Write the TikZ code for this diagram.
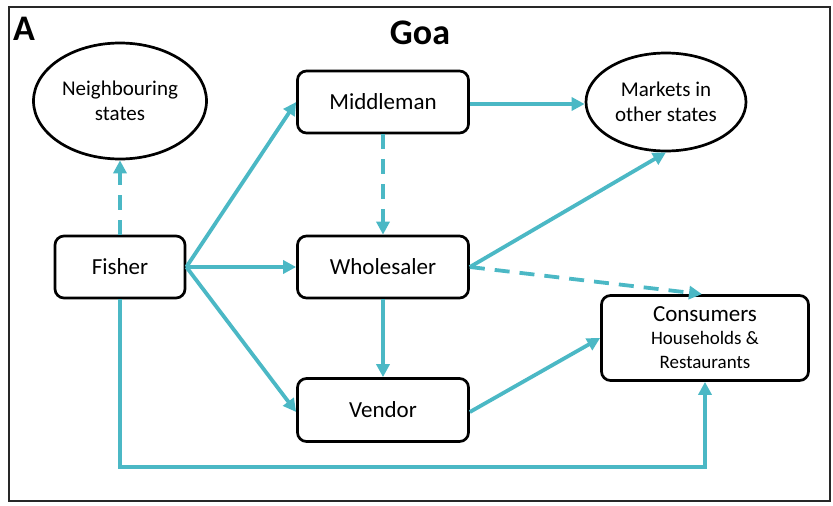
\documentclass[tikz,border=0pt]{standalone}
\usepackage{fontspec}
\setmainfont{Carlito}
\usetikzlibrary{arrows.meta,shapes.geometric}
\definecolor{flow}{RGB}{75,184,197}
\definecolor{framegray}{RGB}{40,40,40}
\tikzset{
  stage/.style={draw=black, line width=2.7pt, rounded corners=9pt,
    minimum width=171pt, minimum height=62pt, inner sep=0pt,
    font=\fontsize{23}{26}\selectfont, align=center},
  place/.style={draw=black, line width=2.7pt, ellipse, inner sep=0pt,
    font=\fontsize{21}{25}\selectfont, align=center},
  link/.style={draw=flow, line width=3.8pt,
    -{Triangle[length=13pt,width=13pt]}},
  weaklink/.style={link, dash pattern=on 15pt off 10pt},
}
\begin{document}
\begin{tikzpicture}[x=1pt,y=-1pt]
  \useasboundingbox (0,0) rectangle (833,506);
  \draw[framegray, line width=2pt] (9,7) rectangle (830,501);

  \node[font=\fontsize{36}{36}\bfseries\selectfont] (tag) at (24,29) {A};
  \node[font=\fontsize{36}{36}\bfseries\selectfont] (title) at (420,33) {Goa};

  % actors along the supply chain
  \node[stage, minimum width=130pt] (fisher) at (120,267) {Fisher};
  \node[stage] (middle) at (383,102) {Middleman};
  \node[stage] (whole) at (383,267) {Wholesaler};
  \node[stage, minimum height=63pt] (vendor) at (383,410) {Vendor};
  \node[stage, minimum width=207pt, minimum height=85pt] (cons) at (705,338)
    {Consumers\\[-3pt]{\fontsize{19}{24}\selectfont Households \&}\\[-2pt]
     {\fontsize{19}{24}\selectfont Restaurants}};

  % destinations outside the state
  \node[place, minimum width=173pt, minimum height=116pt] (neigh) at (120,101)
    {Neighbouring\\states};
  \node[place, minimum width=160pt, minimum height=98pt] (markets) at (666,102)
    {Markets in\\other states};

  % flows
  \draw[weaklink] (fisher.north) -- (neigh.south);
  \draw[link] (fisher.east) -- (middle.west);
  \draw[link] (fisher.east) -- (whole.west);
  \draw[link] (fisher.east) -- ([yshift=-2pt]vendor.west);
  \coordinate (low) at (120,467);
  \draw[link] (fisher.south) -- (low) -| (cons.south);
  \draw[weaklink] (middle.south) -- (whole.north);
  \draw[link] ([yshift=-2pt]middle.east) -- ([yshift=-2pt]markets.west);
  \draw[link] (whole.east) -- (markets.south);
  \draw[weaklink] (whole.east) -- ([xshift=-3pt]cons.north);
  \draw[link] (whole.south) -- (vendor.north);
  \draw[link] ([yshift=-2pt]vendor.east) -- (cons.west);
\end{tikzpicture}
\end{document}
